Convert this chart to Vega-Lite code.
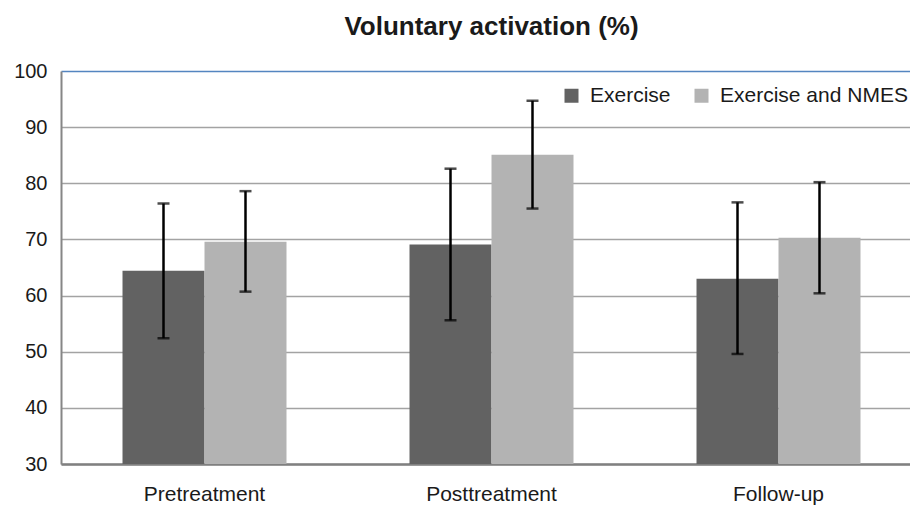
{
  "$schema": "https://vega.github.io/schema/vega-lite/v6.json",
  "width": 861,
  "height": 393,
  "autosize": {"type": "none"},
  "padding": {"left": 61, "top": 71, "right": 0, "bottom": 42},
  "background": "white",
  "title": {
    "text": "Voluntary activation (%)",
    "fontSize": 26,
    "font": "Liberation Sans",
    "fontWeight": "bold",
    "color": "#1a1a1a",
    "anchor": "middle",
    "offset": 21
  },
  "config": {
    "view": {"stroke": null},
    "font": "Liberation Sans"
  },
  "data": {
    "values": [
      {"time": "Pretreatment", "group": "Exercise", "mean": 64.4, "lo": 52.4, "hi": 76.4},
      {"time": "Pretreatment", "group": "Exercise and NMES", "mean": 69.6, "lo": 60.7, "hi": 78.6},
      {"time": "Posttreatment", "group": "Exercise", "mean": 69.1, "lo": 55.6, "hi": 82.6},
      {"time": "Posttreatment", "group": "Exercise and NMES", "mean": 85.1, "lo": 75.5, "hi": 94.7},
      {"time": "Follow-up", "group": "Exercise", "mean": 63.0, "lo": 49.6, "hi": 76.6},
      {"time": "Follow-up", "group": "Exercise and NMES", "mean": 70.3, "lo": 60.4, "hi": 80.2}
    ]
  },
  "encoding": {
    "x": {
      "field": "time",
      "type": "nominal",
      "sort": ["Pretreatment", "Posttreatment", "Follow-up"],
      "scale": {"paddingInner": 0.4286, "paddingOuter": 0.2143},
      "axis": {
        "title": null,
        "labelAngle": 0,
        "labelFontSize": 21,
        "labelColor": "#1a1a1a",
        "labelPadding": 19,
        "ticks": false,
        "domainColor": "#808080",
        "domainWidth": 2.5
      }
    },
    "xOffset": {
      "field": "group",
      "type": "nominal",
      "sort": ["Exercise", "Exercise and NMES"],
      "scale": {"paddingInner": 0, "paddingOuter": 0}
    }
  },
  "layer": [
    {
      "mark": {"type": "bar"},
      "encoding": {
        "y": {
          "field": "mean",
          "type": "quantitative",
          "title": null,
          "scale": {"domain": [30, 100], "nice": false},
          "axis": {
            "values": [30, 40, 50, 60, 70, 80, 90, 100],
            "labelFontSize": 20,
            "labelColor": "#1a1a1a",
            "labelPadding": 14,
            "ticks": false,
            "domainColor": "#868686",
            "domainWidth": 2,
            "grid": true,
            "gridWidth": 1.5,
            "gridColor": {
              "condition": {"test": "datum.value == 100", "value": "#5485c0"},
              "value": "#a3a3a3"
            }
          }
        },
        "y2": {"datum": 30},
        "color": {
          "field": "group",
          "type": "nominal",
          "scale": {
            "domain": ["Exercise", "Exercise and NMES"],
            "range": ["#626262", "#b3b3b3"]
          },
          "legend": {
            "title": null,
            "orient": "none",
            "legendX": 500,
            "legendY": 14,
            "direction": "horizontal",
            "symbolType": "square",
            "symbolSize": 196,
            "symbolStrokeWidth": 0,
            "labelFontSize": 21,
            "labelLimit": 400,
            "labelColor": "#1a1a1a",
            "labelOffset": 8,
            "columnPadding": 20,
            "padding": 0
          }
        }
      }
    },
    {
      "mark": {"type": "rule", "strokeWidth": 2.5, "color": "#000000"},
      "encoding": {
        "y": {"field": "lo", "type": "quantitative", "title": null},
        "y2": {"field": "hi"}
      }
    },
    {
      "mark": {"type": "tick", "thickness": 2.5, "size": 12, "color": "#000000"},
      "encoding": {
        "y": {"field": "lo", "type": "quantitative", "title": null}
      }
    },
    {
      "mark": {"type": "tick", "thickness": 2.5, "size": 12, "color": "#000000"},
      "encoding": {
        "y": {"field": "hi", "type": "quantitative", "title": null}
      }
    }
  ]
}
